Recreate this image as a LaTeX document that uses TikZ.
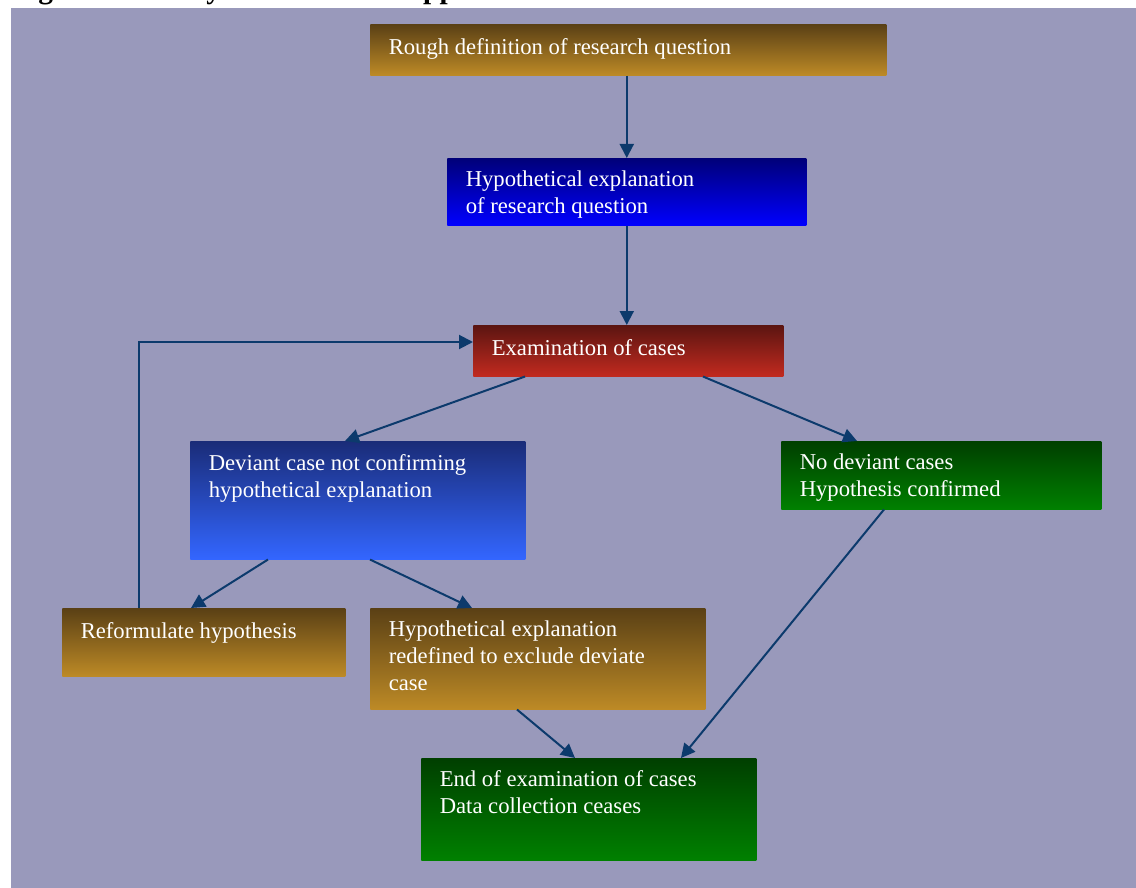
\documentclass[tikz,border=0pt]{standalone}
\usepackage{fontspec}
\setmainfont{Liberation Serif}
\usetikzlibrary{arrows.meta,calc}

\definecolor{panel}{RGB}{153,153,187}
\definecolor{link}{RGB}{12,58,108}
\definecolor{brownT}{RGB}{90,64,21}
\definecolor{brownB}{RGB}{189,138,38}
\definecolor{navyT}{RGB}{0,0,120}
\definecolor{navyB}{RGB}{0,0,255}
\definecolor{redT}{RGB}{92,21,17}
\definecolor{redB}{RGB}{193,42,31}
\definecolor{skyT}{RGB}{26,44,120}
\definecolor{skyB}{RGB}{51,102,255}
\definecolor{greenT}{RGB}{0,63,0}
\definecolor{greenB}{RGB}{0,128,0}

\tikzset{
  box/.style 2 args={anchor=north west, inner sep=0pt, draw=none,
    minimum width=#1*0.75pt, minimum height=#2*0.75pt},
  brownfill/.style={top color=brownT, bottom color=brownB},
  navyfill/.style={top color=navyT, bottom color=navyB},
  redfill/.style={top color=redT, bottom color=redB},
  skyfill/.style={top color=skyT, bottom color=skyB},
  greenfill/.style={top color=greenT, bottom color=greenB},
  % anchored on the baseline of the last line of the text
  label text/.style={anchor=base west, inner sep=0pt, align=left,
    text=white, font=\fontsize{17}{19.9}\selectfont},
  conn/.style={draw=link, line width=1.5pt,
    -{Triangle[length=10.5pt,width=10.5pt]}}
}

\begin{document}
\begin{tikzpicture}[x=0.75pt,y=-0.75pt]
  \useasboundingbox (0,0) rectangle (1136,888);
  \clip (0,0) rectangle (1136,888);

  % heading line above the panel (only its lowest part falls on the page)
  \node[anchor=base west, inner sep=0pt, font=\fontsize{22}{26}\selectfont\bfseries]
    (heading) at (12,-1.5) {Figure 8.1 Analytical induction approach};

  % panel
  \fill[panel] (11,8) rectangle (1136,888);

  % boxes
  \node[box={516}{51}, brownfill] (rough) at (370,24) {};
  \node[box={359}{67}, navyfill]  (hyp)   at (447,158) {};
  \node[box={310}{51}, redfill]   (exam)  at (473,325) {};
  \node[box={335}{118}, skyfill]  (dev)   at (190,441) {};
  \node[box={320}{68}, greenfill] (nodev) at (781,441) {};
  \node[box={283}{68}, brownfill] (ref)   at (62,608) {};
  \node[box={335}{101}, brownfill] (redef) at (370,608) {};
  \node[box={335}{102}, greenfill] (fin)  at (421,758) {};

  % texts
  \node[label text] (roughT) at ($(rough.north west)+(18.5,31)$) {Rough definition of research question};
  \node[label text] (hypT)   at ($(hyp.north west)+(18.5,55.5)$) {Hypothetical explanation\\of research question};
  \node[label text] (examT)  at ($(exam.north west)+(18.5,30)$) {Examination of cases};
  \node[label text] (devT)   at ($(dev.north west)+(18.5,56.5)$) {Deviant case not confirming\\hypothetical explanation};
  \node[label text] (nodevT) at ($(nodev.north west)+(18.5,55.5)$) {No deviant cases\\Hypothesis confirmed};
  \node[label text] (refT)   at ($(ref.north west)+(18.5,30)$) {Reformulate hypothesis};
  \node[label text] (redefT) at ($(redef.north west)+(18.5,82)$) {Hypothetical explanation\\redefined to exclude deviate\\case};
  \node[label text] (finT)   at ($(fin.north west)+(18.5,55.5)$) {End of examination of cases\\Data collection ceases};

  % connectors
  \draw[conn] (rough.south -| hyp.north) -- (hyp.north);
  \draw[conn] (hyp.south) -- (hyp.south |- exam.north);
  \draw[conn] ($(exam.south west)+(52,0)$) -- ($(dev.north west)+(155,0)$);
  \draw[conn] ($(exam.south west)+(230,0)$) -- ($(nodev.north west)+(76,0)$);
  \draw[conn] ($(dev.south west)+(78,0)$) -- ($(ref.north west)+(129,0)$);
  \draw[conn] ($(dev.south west)+(180,0)$) -- ($(redef.north west)+(102,0)$);
  \draw[conn] ($(redef.south west)+(147,0)$) -- ($(fin.north west)+(154,0)$);
  \draw[conn] ($(nodev.south west)+(103,0)$) -- ($(fin.north west)+(260,0)$);
  \draw[conn] ($(ref.north west)+(77,0)$) |- ($(exam.north west)+(0,17)$);
\end{tikzpicture}
\end{document}
